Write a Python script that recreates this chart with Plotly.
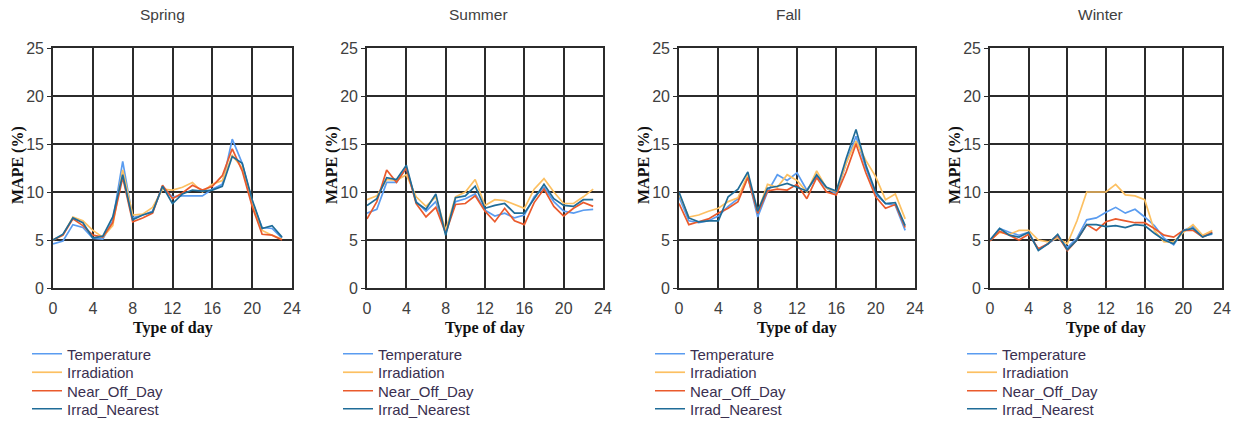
import plotly.graph_objects as go

hours = list(range(24))
seasons = ["Spring", "Summer", "Fall", "Winter"]
series_names = ["Temperature", "Irradiation", "Near_Off_Day", "Irrad_Nearest"]
colors = ["#5a9cf0", "#fcc062", "#ea5a2c", "#1f6c98"]

spring_temperature = [4.6, 4.9, 6.6, 6.3, 5.2, 5.1, 7.0, 13.2, 7.3, 7.6, 8.0, 10.5, 9.5, 9.6, 9.6, 9.6, 10.3, 10.8, 15.5, 13.0, 9.0, 6.3, 6.2, 5.2]
spring_irradiation = [5.0, 5.5, 7.4, 7.0, 6.0, 5.3, 6.5, 12.3, 7.6, 7.7, 8.4, 10.3, 10.2, 10.5, 11.0, 10.0, 10.8, 11.2, 13.8, 12.5, 8.8, 6.0, 5.5, 5.1]
spring_near_off = [5.0, 5.5, 7.2, 6.5, 5.5, 5.3, 6.8, 11.5, 6.9, 7.3, 7.8, 10.7, 9.3, 9.9, 10.7, 10.2, 10.6, 11.7, 14.5, 12.2, 8.5, 5.6, 5.5, 5.0]
spring_irrad_nearest = [5.0, 5.6, 7.3, 6.8, 5.2, 5.4, 7.4, 11.8, 7.1, 7.6, 7.9, 10.6, 8.8, 9.8, 10.2, 10.1, 10.2, 10.6, 13.7, 13.0, 9.2, 6.2, 6.5, 5.3]

summer_temperature = [7.8, 8.2, 11.0, 11.0, 12.5, 9.0, 8.0, 9.0, 5.8, 9.0, 9.3, 9.8, 8.1, 7.5, 7.8, 7.3, 7.6, 9.5, 10.5, 9.0, 8.0, 7.8, 8.1, 8.2]
summer_irradiation = [9.2, 9.6, 11.3, 11.2, 11.8, 9.5, 8.5, 9.5, 6.0, 9.5, 10.0, 11.3, 8.6, 9.2, 9.1, 8.7, 8.3, 10.3, 11.4, 10.0, 8.8, 8.8, 9.5, 10.3]
summer_near_off = [7.2, 9.0, 12.3, 11.0, 12.5, 8.8, 7.4, 8.4, 5.7, 8.7, 8.8, 9.6, 8.0, 6.9, 8.3, 7.0, 6.6, 8.9, 10.3, 8.5, 7.5, 8.3, 8.9, 8.5]
summer_irrad_nearest = [8.6, 9.3, 11.5, 11.3, 12.8, 8.9, 8.2, 9.8, 5.5, 9.4, 9.6, 10.6, 8.3, 8.6, 8.8, 7.8, 7.8, 9.3, 10.8, 9.3, 8.6, 8.5, 9.2, 9.2]

fall_temperature = [9.5, 7.0, 6.8, 7.0, 7.5, 8.5, 9.3, 11.6, 7.4, 10.0, 11.8, 11.2, 12.0, 10.2, 11.6, 10.4, 9.8, 13.0, 15.8, 12.5, 9.8, 8.8, 8.6, 6.0]
fall_irradiation = [9.8, 7.4, 7.6, 8.0, 8.3, 9.0, 9.4, 11.8, 7.9, 10.8, 10.5, 11.8, 11.2, 10.0, 12.2, 10.4, 10.0, 13.0, 15.3, 13.3, 11.6, 9.2, 9.8, 7.2]
fall_near_off = [8.8, 6.6, 6.9, 7.2, 7.8, 8.3, 9.0, 11.5, 7.8, 10.1, 10.3, 10.2, 10.8, 9.3, 11.5, 10.0, 9.7, 12.1, 15.0, 12.0, 9.5, 8.3, 8.7, 6.3]
fall_irrad_nearest = [10.0, 7.3, 6.9, 7.0, 7.0, 9.5, 10.3, 12.1, 8.0, 10.4, 10.6, 10.9, 10.5, 10.1, 11.8, 10.5, 10.1, 13.5, 16.5, 12.8, 10.0, 8.8, 8.9, 6.5]

winter_temperature = [5.0, 6.2, 5.8, 5.5, 5.8, 4.0, 4.6, 5.3, 4.2, 5.2, 7.1, 7.3, 7.9, 8.4, 7.8, 8.2, 7.4, 6.5, 5.2, 4.5, 6.0, 6.4, 5.4, 5.6]
winter_irradiation = [5.0, 5.8, 5.6, 6.0, 6.0, 5.0, 4.8, 5.2, 4.6, 7.0, 10.0, 10.0, 10.0, 10.8, 9.7, 9.6, 9.2, 6.0, 4.8, 4.8, 5.8, 6.6, 5.5, 6.0]
winter_near_off = [4.9, 5.9, 5.5, 5.0, 5.6, 4.1, 4.6, 5.5, 3.9, 5.0, 6.6, 6.0, 6.9, 7.2, 7.0, 6.8, 6.8, 6.2, 5.5, 5.3, 6.0, 6.0, 5.3, 5.8]
winter_irrad_nearest = [5.0, 6.2, 5.5, 5.3, 5.8, 3.9, 4.6, 5.6, 4.0, 5.0, 6.6, 6.6, 6.4, 6.5, 6.3, 6.6, 6.5, 5.7, 5.0, 4.6, 6.0, 6.2, 5.3, 5.7]

data = {
    "Spring": [spring_temperature, spring_irradiation, spring_near_off, spring_irrad_nearest],
    "Summer": [summer_temperature, summer_irradiation, summer_near_off, summer_irrad_nearest],
    "Fall": [fall_temperature, fall_irradiation, fall_near_off, fall_irrad_nearest],
    "Winter": [winter_temperature, winter_irradiation, winter_near_off, winter_irrad_nearest],
}

x_ticks = [0, 4, 8, 12, 16, 20, 24]
y_ticks = [0, 5, 10, 15, 20, 25]

W, H = 1238, 422
# plot areas in pixels
panels_px = [(53, 292), (367, 603), (679, 915), (990, 1222)]
top_px, bottom_px = 48, 288
title_x_px = [162, 478, 788, 1100]
legend_x_px = [27, 338, 650, 962]
legend_row_px = [354, 372.5, 391, 409]

fig = go.Figure()
layout = dict(
    width=W, height=H,
    margin=dict(l=0, r=0, t=0, b=0, autoexpand=False),
    paper_bgcolor="white", plot_bgcolor="white",
    showlegend=True,
    annotations=[],
)

tick_font = dict(family="Liberation Sans, Arial", size=16, color="#404040")
title_font = dict(family="Liberation Sans, Arial", size=15.5, color="#404040")
serif_font = dict(family="Liberation Serif, Times New Roman", size=16, color="#111111")

legend_index = 0
for i, season in enumerate(seasons):
    n = "" if i == 0 else str(i + 1)
    xa, ya = "x" + n, "y" + n
    x0, x1 = panels_px[i]
    for j, name in enumerate(series_names):
        legend_index += 1
        lg = "legend" if legend_index == 1 else "legend" + str(legend_index)
        fig.add_trace(go.Scatter(
            x=hours, y=data[season][j], mode="lines", name=name,
            line=dict(color=colors[j], width=1.7),
            xaxis=xa, yaxis=ya, legend=lg,
        ))
        layout[lg] = dict(
            x=legend_x_px[i] / W, y=1 - legend_row_px[j] / H,
            xanchor="left", yanchor="middle",
            font=dict(family="Liberation Sans, Arial", size=15, color="#3a3050"),
            bgcolor="rgba(0,0,0,0)", itemwidth=30,
        )
    axis_common = dict(
        showgrid=True, gridcolor="#2b2b2b", gridwidth=1.6,
        showline=True, linecolor="#2b2b2b", linewidth=1.6, mirror=True,
        zeroline=False, tickfont=tick_font,
    )
    layout["xaxis" + n] = dict(
        axis_common, domain=[x0 / W, x1 / W], range=[0, 24],
        tickmode="array", tickvals=x_ticks, ticks="", ticklabelstandoff=5,
        anchor=ya,
    )
    layout["yaxis" + n] = dict(
        axis_common, domain=[1 - bottom_px / H, 1 - top_px / H], range=[0, 25],
        tickmode="array", tickvals=y_ticks, ticks="outside", ticklen=4,
        tickcolor="#2b2b2b", anchor=xa,
    )
    layout["annotations"].append(dict(
        text=season, x=title_x_px[i] / W, y=1 - 15 / H, xref="paper", yref="paper",
        showarrow=False, font=title_font, xanchor="center", yanchor="middle",
    ))
    layout["annotations"].append(dict(
        text="<b>Type of day</b>", x=(x0 + x1) / 2 / W, y=1 - 328 / H,
        xref="paper", yref="paper", showarrow=False, font=serif_font,
        xanchor="center", yanchor="middle",
    ))
    layout["annotations"].append(dict(
        text="<b>MAPE (%)</b>", x=(x0 - 35) / W, y=1 - 165 / H,
        xref="paper", yref="paper", showarrow=False, textangle=-90,
        font=serif_font, xanchor="center", yanchor="middle",
    ))

fig.update_layout(**layout)
fig.write_html("out.html")
